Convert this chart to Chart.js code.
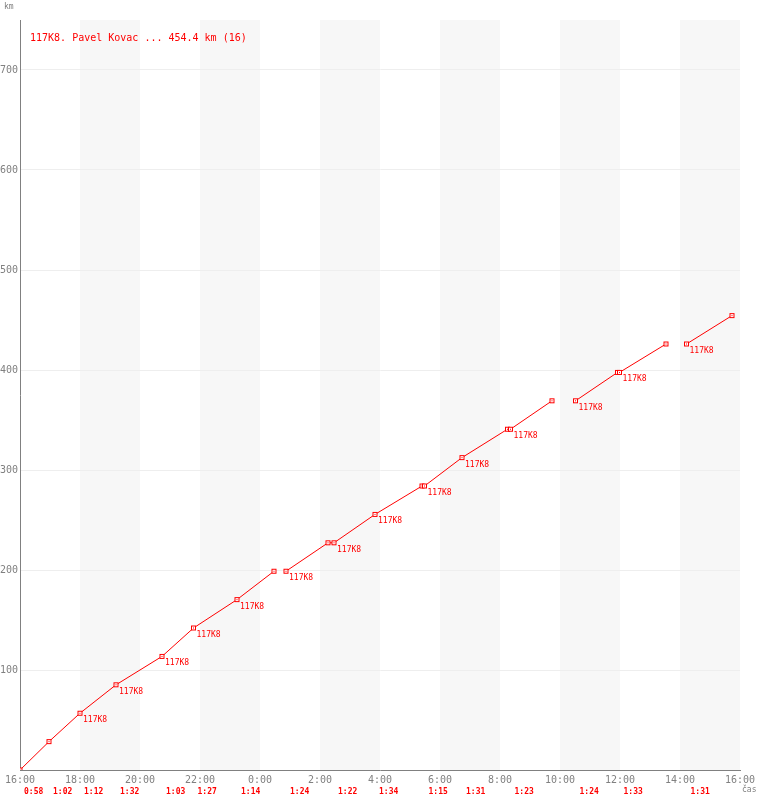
<!DOCTYPE html>
<html>
<head>
<meta charset="utf-8">
<script src="https://cdn.jsdelivr.net/npm/chart.js@4/dist/chart.umd.min.js"></script>
<style>
    body { margin: 0; background: #fff; }
</style>
</head>
<body>
<canvas id="track-chart" width="760" height="800"></canvas>
<script>
// minutes since 16:00 and distance in km for each fix
const times = [0, 58, 120, 192, 284, 347, 434, 508, 532, 616, 628, 710, 804, 809, 884, 975, 981, 1064, 1111, 1195, 1199, 1292, 1333, 1424];
const distances = [0, 28.4, 56.8, 85.2, 113.6, 142, 170.4, 198.8, 198.8, 227.2, 227.2, 255.6, 284, 284, 312.4, 340.8, 340.8, 369.2, 369.2, 397.6, 397.6, 426, 426, 454.4];
// fixes carrying the callsign
const named = [false, false, true, true, true, true, true, false, true, false, true, true, false, true, true, false, true, false, true, false, true, false, true, false];
// the line is broken after these fixes
const breaksAfter = [7, 17, 21];

// leg durations, written under the start of each leg
const legStarts = [0, 1, 2, 3, 4, 5, 6, 8, 10, 11, 13, 14, 16, 18, 20, 22];
const legTimes = ['0:58', '1:02', '1:12', '1:32', '1:03', '1:27', '1:14', '1:24', '1:22', '1:34', '1:15', '1:31', '1:23', '1:24', '1:33', '1:31'];

const bandStarts = [120, 360, 600, 840, 1080, 1320];
const bandWidth = 120;
const yTicks = [100, 200, 300, 400, 500, 600, 700];

const callsign = '117K8';
const title = '117K8. Pavel Kovac ... 454.4 km (16)';

const MONO = '"DejaVu Sans Mono", monospace';
const GRAY = '#808080';
const RED = '#ff0000';

function makeMarker() {
    const c = document.createElement('canvas');
    c.width = 7;
    c.height = 7;
    const ctx = c.getContext('2d');
    ctx.fillStyle = '#fff';
    ctx.fillRect(1, 1, 5, 5);
    ctx.strokeStyle = RED;
    ctx.lineWidth = 1;
    ctx.strokeRect(1.5, 1.5, 4, 4);
    ctx.fillStyle = RED;
    ctx.fillRect(3, 3, 1, 1);
    return c;
}

function formatHour(value) {
    return ((16 + value / 60) % 24) + ':00';
}

const bandsPlugin = {
    id: 'bands',
    beforeDraw(chart) {
        const { ctx, chartArea, scales } = chart;
        ctx.save();
        ctx.fillStyle = '#f7f7f7';
        for (const start of bandStarts) {
            const x0 = scales.x.getPixelForValue(start);
            const x1 = scales.x.getPixelForValue(start + bandWidth);
            ctx.fillRect(x0, chartArea.top, x1 - x0, chartArea.bottom - chartArea.top);
        }
        ctx.restore();
    }
};

const textPlugin = {
    id: 'texts',
    afterDraw(chart) {
        const { ctx, chartArea, scales } = chart;
        ctx.save();
        ctx.textBaseline = 'middle';

        ctx.fillStyle = RED;
        ctx.font = '10px ' + MONO;
        ctx.fillText(title, chartArea.left + 10, 38);

        ctx.font = '8px ' + MONO;
        for (let i = 0; i < times.length; ++i) {
            if (!named[i]) {
                continue;
            }
            const x = scales.x.getPixelForValue(times[i]);
            const y = scales.y.getPixelForValue(distances[i]);
            ctx.fillText(callsign, x + 3, y + 7);
        }

        ctx.font = 'bold 8px ' + MONO;
        legStarts.forEach((idx, i) => {
            const x = scales.x.getPixelForValue(times[idx]);
            ctx.fillText(legTimes[i], x + 4, 792);
        });

        ctx.fillStyle = GRAY;
        ctx.font = '8px ' + MONO;
        ctx.fillText('km', 4, 7);
        ctx.fillText('čas', chartArea.right + 2, 790);
        ctx.restore();
    }
};

new Chart(document.getElementById('track-chart'), {
    type: 'line',
    data: {
        datasets: [{
            data: times.map((t, i) => ({ x: t, y: distances[i] })),
            borderColor: RED,
            borderWidth: 1,
            pointStyle: makeMarker(),
            pointRadius: 3,
            tension: 0,
            segment: {
                borderColor: (ctx) => breaksAfter.includes(ctx.p0DataIndex) ? 'rgba(0,0,0,0)' : RED
            }
        }]
    },
    options: {
        responsive: false,
        animation: false,
        layout: {
            padding: { top: 20, right: 20, left: 0, bottom: 0 }
        },
        plugins: {
            legend: { display: false },
            tooltip: { enabled: false }
        },
        scales: {
            x: {
                type: 'linear',
                min: 0,
                max: 1440,
                afterFit: (scale) => { scale.height = 30; },
                afterBuildTicks: (scale) => {
                    const ticks = [];
                    for (let v = 0; v <= 1440; v += 120) {
                        ticks.push({ value: v });
                    }
                    scale.ticks = ticks;
                },
                grid: { display: false, drawTicks: false },
                border: { display: true, color: GRAY, width: 1 },
                ticks: {
                    padding: 4,
                    maxRotation: 0,
                    autoSkip: false,
                    color: GRAY,
                    font: { family: MONO, size: 10 },
                    callback: (value) => formatHour(value)
                }
            },
            y: {
                min: 0,
                max: 750,
                afterFit: (scale) => { scale.width = 20; },
                afterBuildTicks: (scale) => {
                    scale.ticks = yTicks.map((v) => ({ value: v }));
                },
                grid: { color: '#eeeeee', drawTicks: false },
                border: { display: true, color: GRAY, width: 1 },
                ticks: {
                    padding: 2,
                    color: GRAY,
                    font: { family: MONO, size: 10 }
                }
            }
        }
    },
    plugins: [bandsPlugin, textPlugin]
});
</script>
</body>
</html>
